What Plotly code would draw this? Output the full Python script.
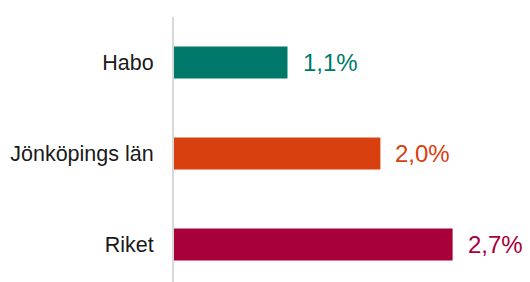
import plotly.graph_objects as go

categories = ["Habo", "Jönköpings län", "Riket"]
values = [1.1, 2.0, 2.7]
value_labels = ["1,1%", "2,0%", "2,7%"]
colors = ["#00796b", "#d9400f", "#a8003a"]

fig = go.Figure()
fig.add_trace(go.Bar(
    x=values, y=categories, orientation="h",
    marker=dict(color=colors, line=dict(width=0)),
    width=0.352,
    hoverinfo="skip",
))

for c, v, lab, col in zip(categories, values, value_labels, colors):
    fig.add_annotation(x=v, y=c, text=lab, showarrow=False, xanchor="left",
                       yanchor="middle", xshift=13,
                       font=dict(size=24, color=col, family="Liberation Sans, Arial"))

fig.update_layout(
    width=522, height=274,
    margin=dict(l=166, r=0, t=9, b=0),
    paper_bgcolor="white", plot_bgcolor="white",
    showlegend=False,
    font=dict(family="Liberation Sans, Arial", size=21.5, color="#1a1a1a"),
    xaxis=dict(range=[0, 3.45], visible=False, fixedrange=True),
    yaxis=dict(
        type="category", categoryarray=categories, categoryorder="array",
        range=[2.412, -0.5],
        showline=True, linecolor="#d9d9d9", linewidth=2,
        showgrid=False, zeroline=False,
        ticks="outside", ticklen=14, tickcolor="rgba(0,0,0,0)",
        tickfont=dict(size=21.5, color="#1a1a1a"),
    ),
)

fig.write_html("out.html")
